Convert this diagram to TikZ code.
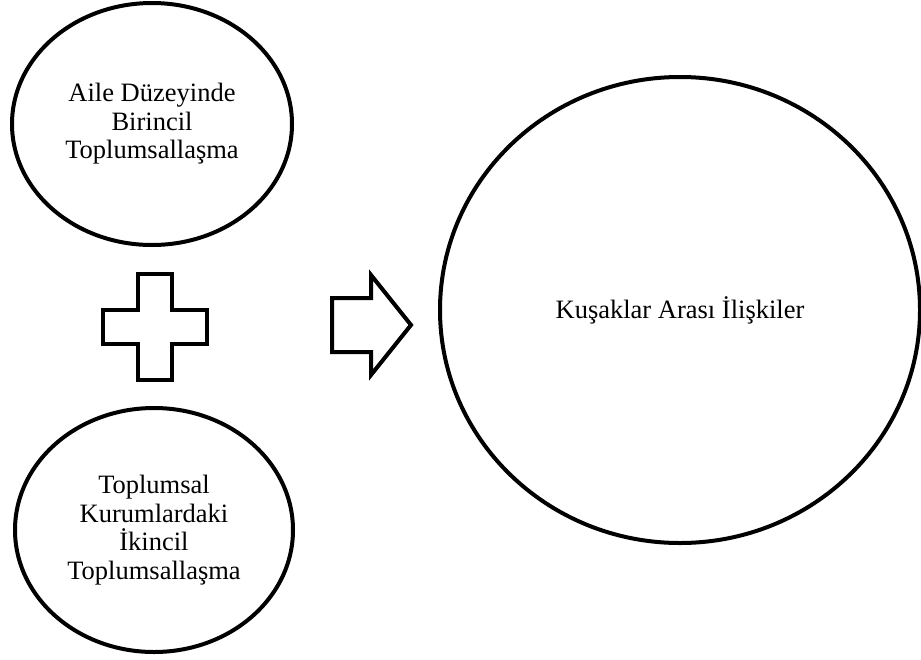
\documentclass[tikz,border=0pt]{standalone}
\usepackage{fontspec}
\setmainfont{Liberation Serif}
\usetikzlibrary{shapes.geometric}

\begin{document}
\begin{tikzpicture}[
  x=1pt, y=-1pt,
  oval/.style = {draw, line width=4pt, ellipse, align=center, inner sep=0pt,
                 font=\fontsize{26.5}{28.5}\selectfont},
  outline/.style = {draw, line width=4pt, line join=miter}
]
  \useasboundingbox (0,0) rectangle (921,659);

  % Primary socialisation
  \node[oval, minimum width=280pt, minimum height=242pt] (aile) at (152,124)
    {Aile Düzeyinde\\Birincil\\Toplumsallaşma};

  % Secondary socialisation
  \node[oval, minimum width=278pt, minimum height=244pt] (kurum) at (154,530)
    {Toplumsal\\Kurumlardaki\\İkincil\\Toplumsallaşma};

  % Outcome
  \node[oval, minimum width=480pt, minimum height=466pt] (kusak) at (680,310)
    {Kuşaklar Arası İlişkiler};

  % Plus sign
  \coordinate (plus) at (155,327);
  \draw[outline] (plus) ++(-17,-53) -- ++(34,0) -- ++(0,36) -- ++(35,0)
    -- ++(0,34) -- ++(-35,0) -- ++(0,36) -- ++(-34,0) -- ++(0,-36)
    -- ++(-35,0) -- ++(0,-34) -- ++(35,0) -- cycle;

  % Block arrow
  \coordinate (arr) at (371,325);
  \draw[outline] (arr) ++(-39,-27) -- ++(39,0) -- ++(0,-23) -- ++(40,50)
    -- ++(-40,50) -- ++(0,-23) -- ++(-39,0) -- cycle;

\end{tikzpicture}
\end{document}
